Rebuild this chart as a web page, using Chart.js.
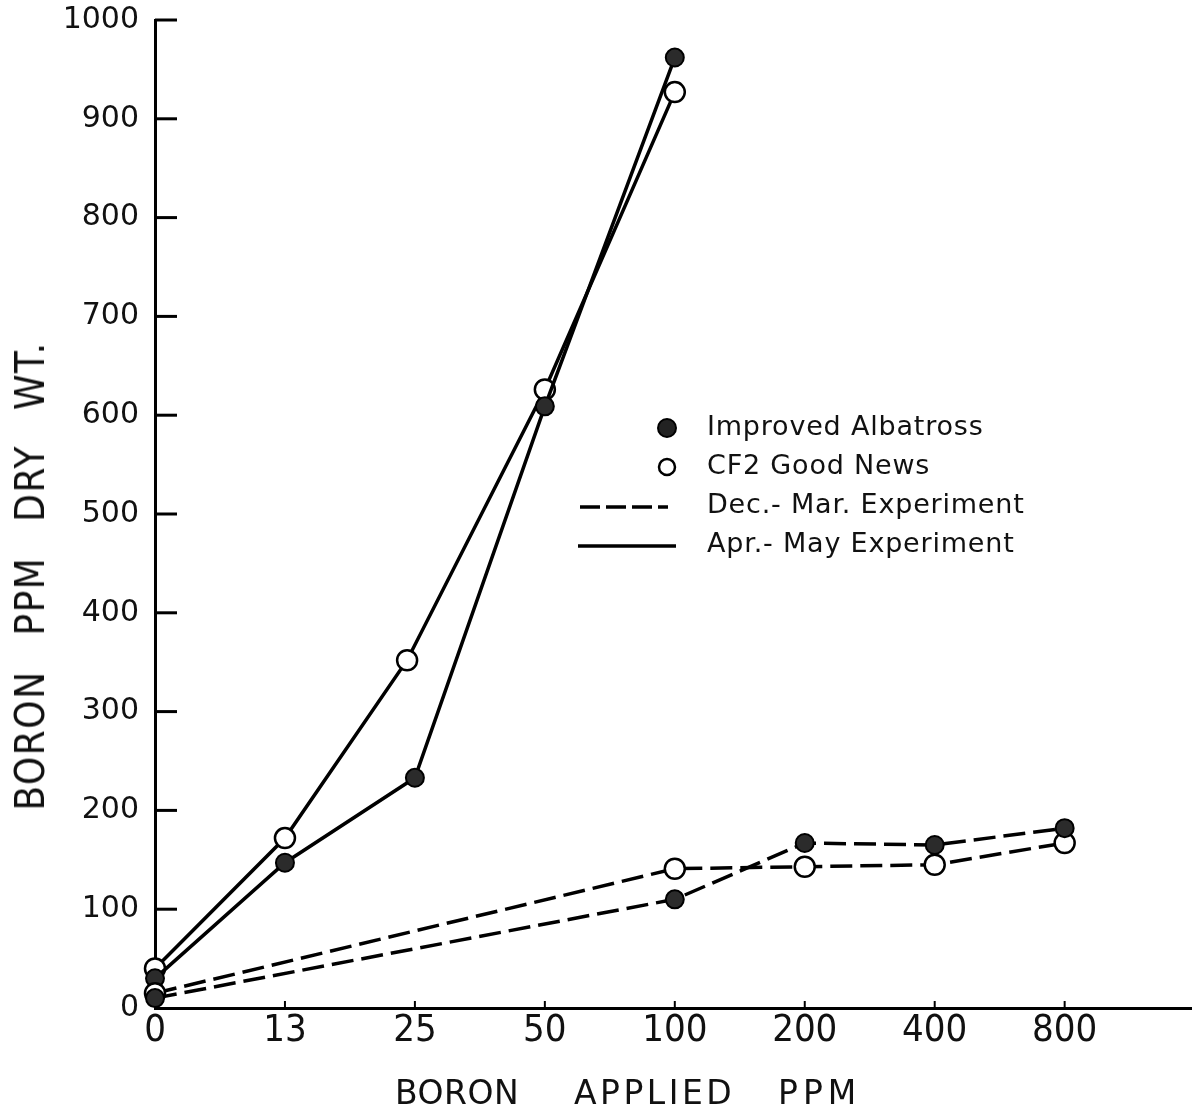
<!DOCTYPE html>
<html>
<head>
<meta charset="utf-8">
<script src="https://cdn.jsdelivr.net/npm/chart.js@4/dist/chart.umd.min.js"></script>
<style>
  body { margin: 0; background: #fff; overflow: hidden; }
  #wrap { position: relative; width: 1192px; height: 1120px; }
  #legend { position: absolute; left: 575px; top: 411px; font-family: "DejaVu Sans", sans-serif; font-size: 27px; letter-spacing: 0.8px; color: #111; }
  #legend .row { position: relative; height: 39px; }
  #legend .txt { position: absolute; left: 132px; top: -1px; white-space: nowrap; }
  #legend svg { position: absolute; left: 0; top: 0; }
  .xt { position: absolute; top: 1073px; font-family: "DejaVu Sans", sans-serif; font-size: 33px; color: #111; white-space: nowrap; }
  #ytitle { position: absolute; left: 30px; top: 576px; font-family: "DejaVu Sans Condensed", "DejaVu Sans", sans-serif; font-size: 40px; letter-spacing: 1.5px; word-spacing: 22px; color: #111; white-space: nowrap; transform: translate(-50%, -50%) rotate(-90deg); }
</style>
</head>
<body>
<div id="wrap">
  <canvas id="chart" width="1192" height="1120"></canvas>
  <div id="legend">
    <div class="row"><svg width="120" height="36"><circle cx="92" cy="17" r="9" fill="#222" stroke="#000" stroke-width="2"/></svg><span class="txt">Improved Albatross</span></div>
    <div class="row"><svg width="120" height="36"><circle cx="92" cy="17" r="8" fill="#fff" stroke="#000" stroke-width="2.5"/></svg><span class="txt">CF2 Good News</span></div>
    <div class="row"><svg width="120" height="36"><line x1="5" y1="18" x2="93" y2="18" stroke="#000" stroke-width="3.5" stroke-dasharray="20 6"/></svg><span class="txt">Dec.- Mar. Experiment</span></div>
    <div class="row"><svg width="120" height="36"><line x1="3" y1="18" x2="101" y2="18" stroke="#000" stroke-width="3.5"/></svg><span class="txt">Apr.- May Experiment</span></div>
  </div>
  <span class="xt" style="left:395px; letter-spacing:0.5px">BORON</span><span class="xt" style="left:574px; letter-spacing:3.5px">APPLIED</span><span class="xt" style="left:778px; letter-spacing:5px">PPM</span>
  <div id="ytitle">BORON PPM DRY WT.</div>
</div>
<script>
// tick labels on the x axis (boron applied, ppm) - spaced evenly, not to scale
const xLabels = ['0', '13', '25', '50', '100', '200', '400', '800'];

// Apr.- May experiment (solid lines), points at 0,13,25,50,100
const aprMayPos = [0, 1, 2, 3, 4];
const aprMayGoodNewsPos = [0, 1, 1.94, 3, 4];
const albatrossAprMay = [30, 147, 233, 609, 962];
const goodNewsAprMay = [40, 172, 352, 626, 927];

// Dec.- Mar. experiment (dashed lines), points at 0,100,200,400,800
const decMarPos = [0, 4, 5, 6, 7];
const albatrossDecMar = [10, 110, 167, 165, 182];
const goodNewsDecMar = [15, 141, 143, 145, 167];

const yTicks = [0, 100, 200, 300, 400, 500, 600, 700, 800, 900, 1000];

function pts(xs, ys) {
  return ys.map((y, i) => ({ x: xs[i], y: y }));
}

const filled = { pointBackgroundColor: '#2b2b2b', pointBorderColor: '#000', pointRadius: 9, pointBorderWidth: 2 };
const open = { pointBackgroundColor: '#fff', pointBorderColor: '#000', pointRadius: 10, pointBorderWidth: 2.5 };

const FONT = '"DejaVu Sans", sans-serif';
const FONT_C = '"DejaVu Sans Condensed", "DejaVu Sans", sans-serif';

// small tick marks pointing into the plot
const innerTicks = {
  id: 'innerTicks',
  afterDraw(chart) {
    const ctx = chart.ctx;
    const y = chart.scales.y, x = chart.scales.x;
    const { left, bottom } = chart.chartArea;
    ctx.save();
    ctx.strokeStyle = '#000';
    ctx.lineWidth = 3;
    for (let v of yTicks) {
      if (v === 0) continue;
      let py = y.getPixelForValue(v);
      ctx.beginPath();
      ctx.moveTo(left, py);
      ctx.lineTo(left + 22, py);
      ctx.stroke();
    }
    ctx.lineWidth = 2;
    for (let i = 1; i < xLabels.length; i++) {
      let px = x.getPixelForValue(i);
      ctx.beginPath();
      ctx.moveTo(px, bottom);
      ctx.lineTo(px, bottom - 7);
      ctx.stroke();
    }
    ctx.restore();
  }
};

new Chart(document.getElementById('chart'), {
  type: 'line',
  data: {
    datasets: [
      Object.assign({ label: 'Improved Albatross, Dec.- Mar.', data: pts(decMarPos, albatrossDecMar), borderDash: [22, 8] }, filled),
      Object.assign({ label: 'CF2 Good News, Dec.- Mar.', data: pts(decMarPos, goodNewsDecMar), borderDash: [22, 8] }, open),
      Object.assign({ label: 'Improved Albatross, Apr.- May', data: pts(aprMayPos, albatrossAprMay) }, filled),
      Object.assign({ label: 'CF2 Good News, Apr.- May', data: pts(aprMayGoodNewsPos, goodNewsAprMay) }, open)
    ].map(d => Object.assign({ borderColor: '#000', borderWidth: 3.5, tension: 0, clip: false }, d))
  },
  options: {
    responsive: false,
    animation: false,
    layout: { autoPadding: false, padding: { top: 20, right: 0, left: 0, bottom: 0 } },
    plugins: { legend: { display: false }, tooltip: { enabled: false } },
    scales: {
      x: {
        type: 'linear',
        min: 0,
        max: 7.98,
        grid: { display: false, drawTicks: false },
        border: { display: true, color: '#000', width: 3 },
        ticks: {
          stepSize: 1,
          includeBounds: false,
          color: '#111',
          padding: 0,
          font: { family: FONT_C, size: 38 },
          callback: v => Number.isInteger(v) ? (xLabels[v] || '') : ''
        },
        afterFit: s => { s.height = 112; s.paddingLeft = 0; s.paddingRight = 0; }
      },
      y: {
        min: 0,
        max: 1000,
        grid: { display: false, drawTicks: false },
        border: { display: true, color: '#000', width: 3 },
        ticks: {
          stepSize: 100,
          color: '#111',
          padding: 16,
          font: { family: FONT, size: 30 },
          callback: v => String(v)
        },
        afterFit: s => { s.width = 155; s.paddingTop = 0; s.paddingBottom = 0; }
      }
    }
  },
  plugins: [innerTicks]
});
</script>
</body>
</html>
